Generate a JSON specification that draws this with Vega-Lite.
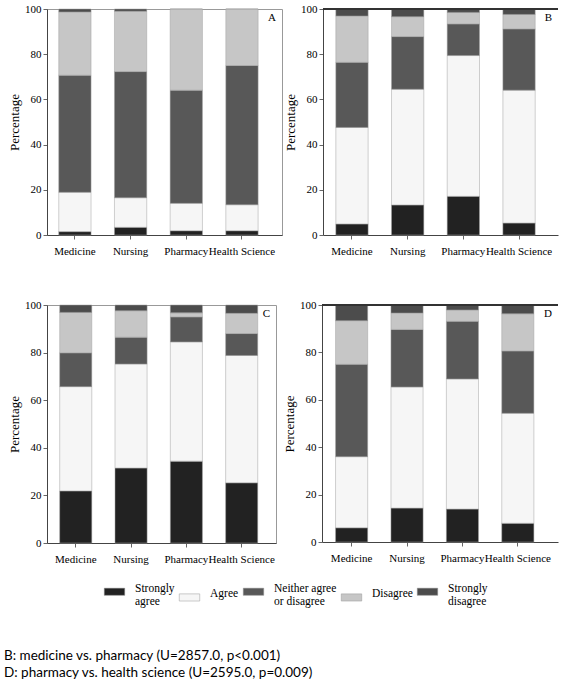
{
  "$schema": "https://vega.github.io/schema/vega-lite/v6.json",
  "padding": {"left": 4, "top": 2, "right": 2, "bottom": 2},
  "background": "white",
  "data": {"values": [
    {"panel":"A","discipline":"Medicine","response":"Strongly agree","level":1,"pct":1.5},
    {"panel":"A","discipline":"Medicine","response":"Agree","level":2,"pct":17.4},
    {"panel":"A","discipline":"Medicine","response":"Neither agree or disagree","level":3,"pct":51.8},
    {"panel":"A","discipline":"Medicine","response":"Disagree","level":4,"pct":28.0},
    {"panel":"A","discipline":"Medicine","response":"Strongly disagree","level":5,"pct":1.3},
    {"panel":"A","discipline":"Nursing","response":"Strongly agree","level":1,"pct":3.4},
    {"panel":"A","discipline":"Nursing","response":"Agree","level":2,"pct":13.1},
    {"panel":"A","discipline":"Nursing","response":"Neither agree or disagree","level":3,"pct":55.8},
    {"panel":"A","discipline":"Nursing","response":"Disagree","level":4,"pct":26.7},
    {"panel":"A","discipline":"Nursing","response":"Strongly disagree","level":5,"pct":1.0},
    {"panel":"A","discipline":"Pharmacy","response":"Strongly agree","level":1,"pct":1.9},
    {"panel":"A","discipline":"Pharmacy","response":"Agree","level":2,"pct":12.1},
    {"panel":"A","discipline":"Pharmacy","response":"Neither agree or disagree","level":3,"pct":50.1},
    {"panel":"A","discipline":"Pharmacy","response":"Disagree","level":4,"pct":35.9},
    {"panel":"A","discipline":"Pharmacy","response":"Strongly disagree","level":5,"pct":0},
    {"panel":"A","discipline":"Health Science","response":"Strongly agree","level":1,"pct":1.9},
    {"panel":"A","discipline":"Health Science","response":"Agree","level":2,"pct":11.5},
    {"panel":"A","discipline":"Health Science","response":"Neither agree or disagree","level":3,"pct":61.6},
    {"panel":"A","discipline":"Health Science","response":"Disagree","level":4,"pct":25.0},
    {"panel":"A","discipline":"Health Science","response":"Strongly disagree","level":5,"pct":0},

    {"panel":"B","discipline":"Medicine","response":"Strongly agree","level":1,"pct":4.9},
    {"panel":"B","discipline":"Medicine","response":"Agree","level":2,"pct":42.7},
    {"panel":"B","discipline":"Medicine","response":"Neither agree or disagree","level":3,"pct":28.8},
    {"panel":"B","discipline":"Medicine","response":"Disagree","level":4,"pct":20.5},
    {"panel":"B","discipline":"Medicine","response":"Strongly disagree","level":5,"pct":3.1},
    {"panel":"B","discipline":"Nursing","response":"Strongly agree","level":1,"pct":13.3},
    {"panel":"B","discipline":"Nursing","response":"Agree","level":2,"pct":51.2},
    {"panel":"B","discipline":"Nursing","response":"Neither agree or disagree","level":3,"pct":23.3},
    {"panel":"B","discipline":"Nursing","response":"Disagree","level":4,"pct":8.8},
    {"panel":"B","discipline":"Nursing","response":"Strongly disagree","level":5,"pct":3.4},
    {"panel":"B","discipline":"Pharmacy","response":"Strongly agree","level":1,"pct":17.1},
    {"panel":"B","discipline":"Pharmacy","response":"Agree","level":2,"pct":62.3},
    {"panel":"B","discipline":"Pharmacy","response":"Neither agree or disagree","level":3,"pct":14.0},
    {"panel":"B","discipline":"Pharmacy","response":"Disagree","level":4,"pct":5.1},
    {"panel":"B","discipline":"Pharmacy","response":"Strongly disagree","level":5,"pct":1.5},
    {"panel":"B","discipline":"Health Science","response":"Strongly agree","level":1,"pct":5.3},
    {"panel":"B","discipline":"Health Science","response":"Agree","level":2,"pct":58.8},
    {"panel":"B","discipline":"Health Science","response":"Neither agree or disagree","level":3,"pct":27.1},
    {"panel":"B","discipline":"Health Science","response":"Disagree","level":4,"pct":6.4},
    {"panel":"B","discipline":"Health Science","response":"Strongly disagree","level":5,"pct":2.4},

    {"panel":"C","discipline":"Medicine","response":"Strongly agree","level":1,"pct":21.9},
    {"panel":"C","discipline":"Medicine","response":"Agree","level":2,"pct":43.8},
    {"panel":"C","discipline":"Medicine","response":"Neither agree or disagree","level":3,"pct":14.2},
    {"panel":"C","discipline":"Medicine","response":"Disagree","level":4,"pct":17.0},
    {"panel":"C","discipline":"Medicine","response":"Strongly disagree","level":5,"pct":3.1},
    {"panel":"C","discipline":"Nursing","response":"Strongly agree","level":1,"pct":31.5},
    {"panel":"C","discipline":"Nursing","response":"Agree","level":2,"pct":43.7},
    {"panel":"C","discipline":"Nursing","response":"Neither agree or disagree","level":3,"pct":11.3},
    {"panel":"C","discipline":"Nursing","response":"Disagree","level":4,"pct":11.1},
    {"panel":"C","discipline":"Nursing","response":"Strongly disagree","level":5,"pct":2.4},
    {"panel":"C","discipline":"Pharmacy","response":"Strongly agree","level":1,"pct":34.4},
    {"panel":"C","discipline":"Pharmacy","response":"Agree","level":2,"pct":50.1},
    {"panel":"C","discipline":"Pharmacy","response":"Neither agree or disagree","level":3,"pct":10.5},
    {"panel":"C","discipline":"Pharmacy","response":"Disagree","level":4,"pct":1.7},
    {"panel":"C","discipline":"Pharmacy","response":"Strongly disagree","level":5,"pct":3.3},
    {"panel":"C","discipline":"Health Science","response":"Strongly agree","level":1,"pct":25.3},
    {"panel":"C","discipline":"Health Science","response":"Agree","level":2,"pct":53.5},
    {"panel":"C","discipline":"Health Science","response":"Neither agree or disagree","level":3,"pct":9.2},
    {"panel":"C","discipline":"Health Science","response":"Disagree","level":4,"pct":8.5},
    {"panel":"C","discipline":"Health Science","response":"Strongly disagree","level":5,"pct":3.5},

    {"panel":"D","discipline":"Medicine","response":"Strongly agree","level":1,"pct":6.0},
    {"panel":"D","discipline":"Medicine","response":"Agree","level":2,"pct":30.0},
    {"panel":"D","discipline":"Medicine","response":"Neither agree or disagree","level":3,"pct":39.0},
    {"panel":"D","discipline":"Medicine","response":"Disagree","level":4,"pct":18.4},
    {"panel":"D","discipline":"Medicine","response":"Strongly disagree","level":5,"pct":6.6},
    {"panel":"D","discipline":"Nursing","response":"Strongly agree","level":1,"pct":14.3},
    {"panel":"D","discipline":"Nursing","response":"Agree","level":2,"pct":51.1},
    {"panel":"D","discipline":"Nursing","response":"Neither agree or disagree","level":3,"pct":24.3},
    {"panel":"D","discipline":"Nursing","response":"Disagree","level":4,"pct":6.9},
    {"panel":"D","discipline":"Nursing","response":"Strongly disagree","level":5,"pct":3.4},
    {"panel":"D","discipline":"Pharmacy","response":"Strongly agree","level":1,"pct":13.9},
    {"panel":"D","discipline":"Pharmacy","response":"Agree","level":2,"pct":54.9},
    {"panel":"D","discipline":"Pharmacy","response":"Neither agree or disagree","level":3,"pct":24.3},
    {"panel":"D","discipline":"Pharmacy","response":"Disagree","level":4,"pct":4.8},
    {"panel":"D","discipline":"Pharmacy","response":"Strongly disagree","level":5,"pct":2.1},
    {"panel":"D","discipline":"Health Science","response":"Strongly agree","level":1,"pct":7.9},
    {"panel":"D","discipline":"Health Science","response":"Agree","level":2,"pct":46.4},
    {"panel":"D","discipline":"Health Science","response":"Neither agree or disagree","level":3,"pct":26.3},
    {"panel":"D","discipline":"Health Science","response":"Disagree","level":4,"pct":15.7},
    {"panel":"D","discipline":"Health Science","response":"Strongly disagree","level":5,"pct":3.7}
  ]},
  "vconcat": [
    {
      "hconcat": [
        {
          "width": 235, "height": 226,
          "transform": [{"filter": "datum.panel === 'A'"}],
          "title": {"text": "A", "anchor": "end", "frame": "group", "offset": -20, "dx": -6},
          "view": {"stroke": "#999"},
          "mark": {"type": "bar", "stroke": "#a0a0a0", "strokeWidth": 0.5},
          "encoding": {
            "x": {"field": "discipline", "type": "nominal", "sort": ["Medicine", "Nursing", "Pharmacy", "Health Science"], "scale": {"paddingInner": 0.42, "paddingOuter": 0.32, "align": 0.33}, "axis": {"title": null}},
            "y": {"field": "pct", "type": "quantitative", "stack": "zero", "scale": {"domain": [0, 100], "nice": false}, "axis": {"title": "Percentage", "values": [0, 20, 40, 60, 80, 100]}},
            "color": {
              "field": "response", "type": "nominal",
              "scale": {"domain": ["Strongly agree", "Agree", "Neither agree or disagree", "Disagree", "Strongly disagree"], "range": ["#222222", "#f6f6f6", "#585858", "#c6c6c6", "#4c4c4c"]},
              "legend": {
                "orient": "none", "legendX": 57, "legendY": 572, "direction": "horizontal", "title": null,
                "labelExpr": "datum.value == 'Strongly agree' ? ['Strongly', '\u00a0\u00a0\u00a0agree'] : datum.value == 'Neither agree or disagree' ? ['Neither agree', '\u00a0\u00a0\u00a0or disagree'] : datum.value == 'Strongly disagree' ? ['Strongly', 'disagree'] : datum.label"
              }
            },
            "order": {"field": "level", "type": "quantitative", "sort": "ascending"}
          }
        },
        {
          "width": 235, "height": 226,
          "transform": [{"filter": "datum.panel === 'B'"}],
          "title": {"text": "B", "anchor": "end", "frame": "group", "offset": -20, "dx": -6},
          "view": {"stroke": null},
          "layer": [
            {
              "mark": {"type": "bar", "stroke": "#a0a0a0", "strokeWidth": 0.5},
              "encoding": {
                "x": {"field": "discipline", "type": "nominal", "sort": ["Medicine", "Nursing", "Pharmacy", "Health Science"], "scale": {"paddingInner": 0.42, "paddingOuter": 0.32, "align": 0.36}, "axis": {"title": null}},
                "y": {"field": "pct", "type": "quantitative", "stack": "zero", "scale": {"domain": [0, 100], "nice": false}, "axis": {"title": "Percentage", "values": [0, 20, 40, 60, 80, 100]}},
                "color": {"field": "response", "type": "nominal"},
                "order": {"field": "level", "type": "quantitative", "sort": "ascending"}
              }
            },
            {
              "mark": {"type": "rule", "color": "#333", "strokeWidth": 1},
              "encoding": {"y": {"datum": 100}}
            }
          ]
        }
      ],
      "spacing": 1
    },
    {
      "hconcat": [
        {
          "width": 229, "height": 238,
          "transform": [{"filter": "datum.panel === 'C'"}],
          "title": {"text": "C", "anchor": "end", "frame": "group", "offset": -20, "dx": -6},
          "view": {"stroke": "#999"},
          "mark": {"type": "bar", "stroke": "#a0a0a0", "strokeWidth": 0.5},
          "encoding": {
            "x": {"field": "discipline", "type": "nominal", "sort": ["Medicine", "Nursing", "Pharmacy", "Health Science"], "scale": {"paddingInner": 0.42, "paddingOuter": 0.28, "align": 0.41}, "axis": {"title": null}},
            "y": {"field": "pct", "type": "quantitative", "stack": "zero", "scale": {"domain": [0, 100], "nice": false}, "axis": {"title": "Percentage", "values": [0, 20, 40, 60, 80, 100]}},
            "color": {"field": "response", "type": "nominal"},
            "order": {"field": "level", "type": "quantitative", "sort": "ascending"}
          }
        },
        {
          "width": 236, "height": 237,
          "transform": [{"filter": "datum.panel === 'D'"}],
          "title": {"text": "D", "anchor": "end", "frame": "group", "offset": -20, "dx": -6},
          "view": {"stroke": null},
          "layer": [
            {
              "mark": {"type": "bar", "stroke": "#a0a0a0", "strokeWidth": 0.5},
              "encoding": {
                "x": {"field": "discipline", "type": "nominal", "sort": ["Medicine", "Nursing", "Pharmacy", "Health Science"], "scale": {"paddingInner": 0.42, "paddingOuter": 0.34, "align": 0.36}, "axis": {"title": null}},
                "y": {"field": "pct", "type": "quantitative", "stack": "zero", "scale": {"domain": [0, 100], "nice": false}, "axis": {"title": "Percentage", "values": [0, 20, 40, 60, 80, 100]}},
                "color": {"field": "response", "type": "nominal"},
                "order": {"field": "level", "type": "quantitative", "sort": "ascending"}
              }
            },
            {
              "mark": {"type": "rule", "color": "#333", "strokeWidth": 1},
              "encoding": {"y": {"datum": 100}}
            }
          ]
        }
      ],
      "spacing": 6
    }
  ],
  "spacing": 41,
  "title": {
    "text": ["B: medicine vs. pharmacy (U=2857.0, p<0.001)", "D: pharmacy vs. health science (U=2595.0, p=0.009)"],
    "orient": "bottom",
    "anchor": "start",
    "frame": "bounds",
    "font": "Lato",
    "fontSize": 13.5,
    "fontWeight": "normal",
    "color": "#000",
    "lineHeight": 17,
    "offset": 41,
    "dx": -4
  },
  "config": {
    "font": "Liberation Serif",
    "title": {"font": "Liberation Serif", "fontSize": 11, "fontWeight": "normal", "color": "#000"},
    "axis": {
      "labelFont": "Liberation Serif", "titleFont": "Liberation Serif",
      "labelFontSize": 11, "titleFontSize": 13, "titleFontWeight": "normal",
      "labelColor": "#000", "titleColor": "#000",
      "domainColor": "#666", "tickColor": "#666", "grid": false, "tickSize": 4
    },
    "axisX": {"labelAngle": 0, "labelPadding": 6, "domainColor": "#444"},
    "axisY": {"titlePadding": 3, "labelPadding": 2, "domainColor": "#444"},
    "legend": {
      "labelFont": "Liberation Serif", "labelFontSize": 11.5, "labelColor": "#000",
      "symbolType": "M-1,-0.35H1V0.35H-1Z", "symbolSize": 420,
      "symbolStrokeColor": "#999", "symbolStrokeWidth": 0.5,
      "columnPadding": 3, "labelOffset": 10, "labelBaseline": "alphabetic"
    }
  }
}
